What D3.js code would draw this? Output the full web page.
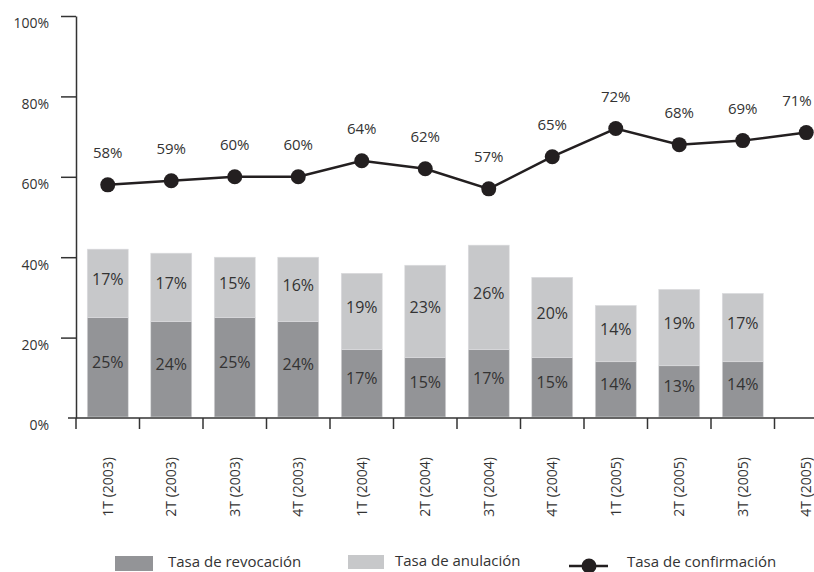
<!DOCTYPE html>
<html><head><meta charset="utf-8">
<script src="https://cdn.jsdelivr.net/npm/d3@7/dist/d3.min.js"></script>
<style>
body{margin:0;background:#fff;}
text{font-family:"Open Sans","Noto Sans",sans-serif;fill:#333;}
</style></head>
<body><svg id="c" width="814" height="572"></svg>
<script>
const categories = ["1T (2003)","2T (2003)","3T (2003)","4T (2003)","1T (2004)","2T (2004)","3T (2004)","4T (2004)","1T (2005)","2T (2005)","3T (2005)","4T (2005)"];
const revocacion = [25,24,25,24,17,15,17,15,14,13,14,null];
const anulacion  = [17,17,15,16,19,23,26,20,14,19,17,null];
const confirmacion = [58,59,60,60,64,62,57,65,72,68,69,71];
const yTicks = [0,20,40,60,80,100];
const seriesNames = ["Tasa de revocación","Tasa de anulación","Tasa de confirmación"];

const colDark = "#939497", colLight = "#c7c8ca", colLine = "#231f20", colAxis = "#333";
const svg = d3.select("#c");
const x = d3.scaleBand().domain(categories).range([76, 76 + 12*63.5]).padding(0);
const y = d3.scaleLinear().domain([0,100]).range([418,16]);
const bw = x.bandwidth(), barW = bw*0.645;

// bars
const g = svg.append("g");
categories.forEach((c,i)=>{
  if (revocacion[i]==null) return;
  const bx = x(c) + (bw-barW)/2;
  const r = revocacion[i], a = anulacion[i];
  g.append("rect").attr("x",bx).attr("y",y(r)).attr("width",barW).attr("height",y(0)-y(r)-1)
    .attr("fill",colDark).attr("stroke","#d8d9da").attr("stroke-width",0.6);
  g.append("rect").attr("x",bx).attr("y",y(r+a)).attr("width",barW).attr("height",y(r)-y(r+a))
    .attr("fill",colLight).attr("stroke","#dcdddf").attr("stroke-width",0.6);
  g.append("text").attr("x",bx+barW/2).attr("y",(y(0)+y(r))/2-5).attr("dy","0.35em")
    .attr("text-anchor","middle").attr("font-size",16).text(r+"%");
  g.append("text").attr("x",bx+barW/2).attr("y",(y(r)+y(r+a))/2-4).attr("dy","0.35em")
    .attr("text-anchor","middle").attr("font-size",16).text(a+"%");
});

// y axis
const ya = svg.append("g").attr("transform","translate(76,0)")
  .call(d3.axisLeft(y).tickValues(yTicks).tickFormat(d=>d+"%").tickSizeInner(15).tickSizeOuter(0).tickPadding(12));
ya.select(".domain").attr("stroke",colAxis).attr("stroke-width",1.5);
ya.selectAll(".tick line").attr("stroke",colAxis).attr("stroke-width",1.5);
ya.selectAll(".tick").filter(d=>d===0).select("line").remove();
ya.selectAll(".tick text").attr("font-size",14).attr("fill","#333").attr("dy","0.85em")
  .style("font-family","'Open Sans','Noto Sans',sans-serif");

// x axis
svg.append("line").attr("x1",68).attr("x2",814).attr("y1",y(0)).attr("y2",y(0))
  .attr("stroke",colAxis).attr("stroke-width",1.5);
categories.forEach(c=>{
  svg.append("line").attr("x1",x(c)).attr("x2",x(c)).attr("y1",y(0)).attr("y2",y(0)+11)
    .attr("stroke",colAxis).attr("stroke-width",1.5);
  svg.append("text").attr("transform",`translate(${x(c)+bw/2+5},457) rotate(-90)`)
    .attr("text-anchor","end").attr("font-size",14).text(c);
});

// line
const line = d3.line().x((d,i)=>x(categories[i])+bw/2).y(d=>y(d));
svg.append("path").datum(confirmacion).attr("d",line).attr("fill","none")
  .attr("stroke",colLine).attr("stroke-width",2.5);
confirmacion.forEach((v,i)=>{
  const cx = x(categories[i])+bw/2;
  svg.append("circle").attr("cx",cx).attr("cy",y(v)).attr("r",7.5).attr("fill",colLine);
  svg.append("text").attr("x",Math.min(cx,797)).attr("y",y(v)-27).attr("text-anchor","middle")
    .attr("font-size",15).text(v+"%");
});

// legend
svg.append("rect").attr("x",115).attr("y",556).attr("width",38).attr("height",15).attr("fill",colDark);
svg.append("text").attr("x",168).attr("y",567).attr("font-size",15).text(seriesNames[0]);
svg.append("rect").attr("x",348).attr("y",555).attr("width",36).attr("height",14).attr("fill",colLight);
svg.append("text").attr("x",395).attr("y",566).attr("font-size",15).text(seriesNames[1]);
svg.append("line").attr("x1",569).attr("x2",608).attr("y1",566).attr("y2",566).attr("stroke",colLine).attr("stroke-width",2.5);
svg.append("circle").attr("cx",589).attr("cy",566).attr("r",7.5).attr("fill",colLine);
svg.append("text").attr("x",627).attr("y",567).attr("font-size",15).text(seriesNames[2]);
</script></body></html>
